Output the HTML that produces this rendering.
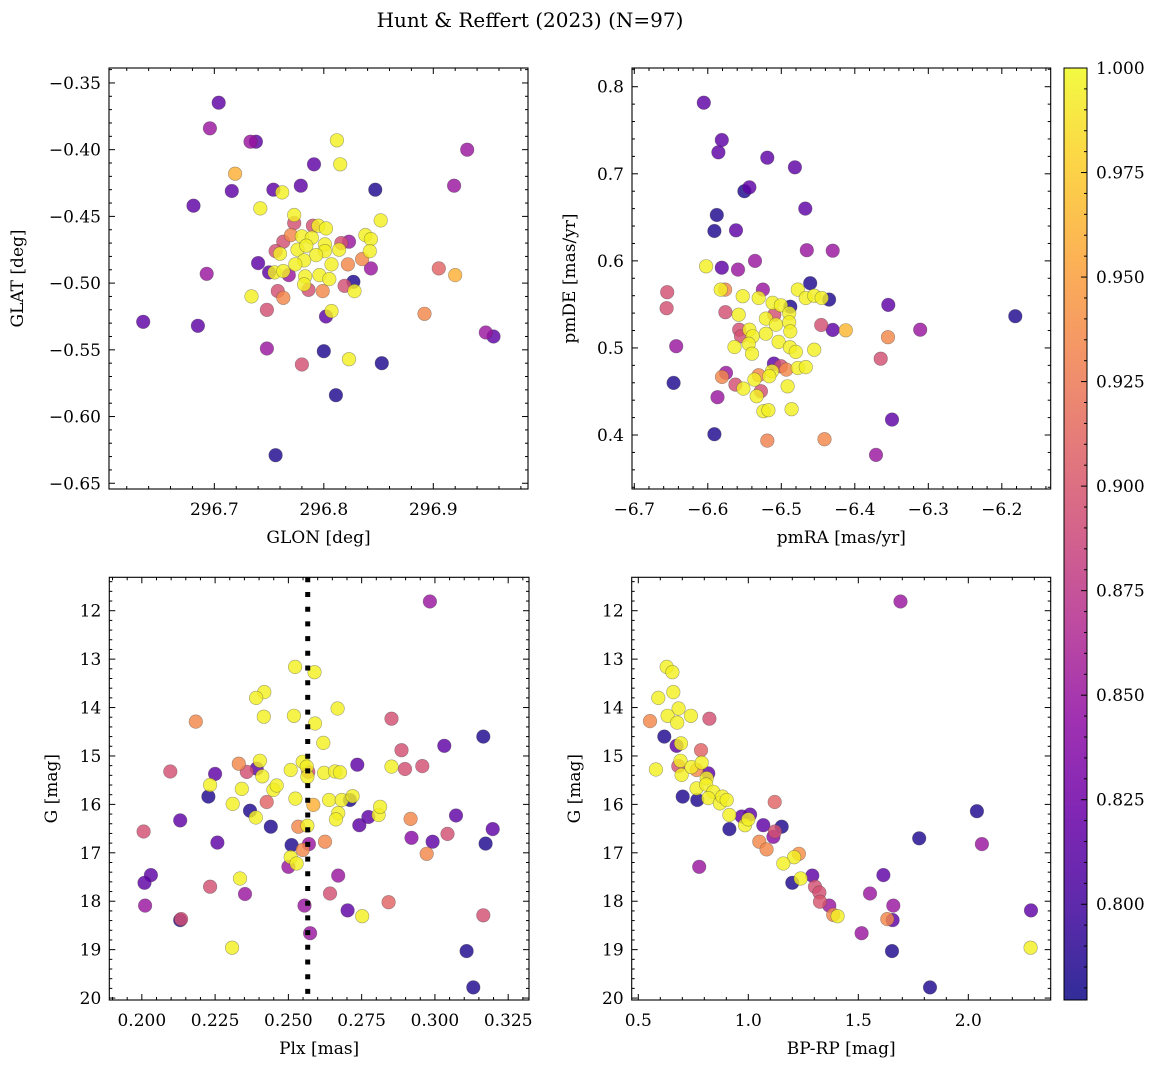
<!DOCTYPE html>
<html><head><meta charset="utf-8">
<style>
html,body{margin:0;padding:0;background:#fff;}
svg{display:block;}
text{font-family:"DejaVu Serif","Liberation Serif",serif;fill:#000;}
</style></head>
<body>
<svg id="fig" width="1161" height="1067" viewBox="0 0 1161 1067" xmlns="http://www.w3.org/2000/svg">
<defs>
<linearGradient id="plasmaGrad" x1="0" y1="1" x2="0" y2="0"></linearGradient>
</defs>
<text x="530" y="27" font-size="20" text-anchor="middle">Hunt &amp; Reffert (2023) (N=97)</text>
</svg>
<script>
// ---------- data ----------
const p1Glon=[296.704,296.696,296.733,296.738,296.812,296.815,296.791,296.719,296.716,296.754,296.762,296.779,296.847,296.931,296.919,296.681,296.742,296.852,296.773,296.773,296.770,296.790,296.795,296.802,296.780,296.789,296.763,296.756,296.760,296.776,296.784,296.801,296.801,296.816,296.823,296.814,296.838,296.843,296.842,296.835,296.793,296.782,296.774,296.807,296.822,296.843,296.740,296.750,296.755,296.763,296.768,296.783,296.796,296.805,296.782,296.786,296.799,296.827,296.819,296.828,296.693,296.734,296.758,296.763,296.748,296.905,296.920,296.892,296.807,296.802,296.635,296.685,296.948,296.955,296.748,296.800,296.823,296.853,296.780,296.811,296.756];
const p1Glat=[-0.3648,-0.384,-0.394,-0.394,-0.393,-0.411,-0.411,-0.418,-0.431,-0.430,-0.432,-0.427,-0.430,-0.400,-0.427,-0.442,-0.444,-0.453,-0.449,-0.455,-0.464,-0.457,-0.457,-0.459,-0.465,-0.466,-0.469,-0.476,-0.478,-0.475,-0.472,-0.471,-0.476,-0.470,-0.469,-0.475,-0.464,-0.467,-0.476,-0.482,-0.479,-0.483,-0.486,-0.486,-0.486,-0.489,-0.485,-0.492,-0.492,-0.491,-0.494,-0.495,-0.494,-0.497,-0.501,-0.505,-0.506,-0.499,-0.502,-0.506,-0.493,-0.510,-0.506,-0.511,-0.520,-0.489,-0.494,-0.523,-0.521,-0.525,-0.529,-0.532,-0.537,-0.540,-0.549,-0.551,-0.557,-0.560,-0.561,-0.584,-0.629];
const p1Prob=[0.815,0.85,0.85,0.815,0.995,0.995,0.815,0.96,0.815,0.815,0.995,0.815,0.785,0.85,0.85,0.815,0.995,0.995,0.995,0.895,0.935,0.895,0.995,0.995,0.995,0.995,0.895,0.895,0.995,0.995,0.995,0.995,0.995,0.895,0.85,0.995,0.995,0.995,0.995,0.935,0.995,0.995,0.995,0.995,0.935,0.85,0.815,0.815,0.995,0.995,0.85,0.995,0.995,0.995,0.995,0.895,0.935,0.785,0.895,0.995,0.85,0.995,0.895,0.935,0.895,0.91,0.96,0.935,0.995,0.815,0.815,0.815,0.85,0.815,0.85,0.785,0.995,0.785,0.895,0.785,0.785];

const p2Pmra=[-6.6054,-6.581,-6.5855,-6.519,-6.4815,-6.5502,-6.5434,-6.4674,-6.5878,-6.591,-6.5616,-6.4653,-6.430,-6.5358,-6.6023,-6.581,-6.5589,-6.6552,-6.656,-6.5824,-6.5765,-6.5525,-6.5308,-6.525,-6.5118,-6.5005,-6.4878,-6.4775,-6.4607,-6.4666,-6.4552,-6.445,-6.435,-6.576,-6.558,-6.5095,-6.4892,-6.5209,-6.5073,-6.4892,-6.3544,-6.1817,-6.4457,-6.43,-6.4123,-6.311,-6.5572,-6.5434,-6.5548,-6.5389,-6.5209,-6.4878,-6.3549,-6.5637,-6.5444,-6.5399,-6.5037,-6.4883,-6.4802,-6.4552,-6.643,-6.3648,-6.5101,-6.5005,-6.4932,-6.4775,-6.4666,-6.5127,-6.5163,-6.5752,-6.5806,-6.5308,-6.5366,-6.4914,-6.5624,-6.5516,-6.5277,-6.5335,-6.6465,-6.5868,-6.5244,-6.5176,-6.486,-6.3494,-6.591,-6.519,-6.4412,-6.3711];
const p2Pmde=[0.7816,0.7388,0.7247,0.7185,0.7075,0.680,0.6845,0.660,0.6527,0.6343,0.6351,0.6122,0.6117,0.600,0.5938,0.5922,0.590,0.564,0.5456,0.567,0.567,0.5594,0.5574,0.567,0.5517,0.549,0.5474,0.567,0.5743,0.5574,0.560,0.5574,0.5555,0.541,0.5382,0.5382,0.5398,0.5337,0.5268,0.5295,0.5494,0.5364,0.5264,0.5207,0.5203,0.521,0.521,0.521,0.5134,0.5134,0.5164,0.519,0.5123,0.5011,0.5046,0.4934,0.5069,0.5008,0.4954,0.498,0.502,0.4877,0.482,0.479,0.4751,0.477,0.478,0.4733,0.4675,0.4713,0.4667,0.4687,0.4636,0.456,0.4579,0.4533,0.4503,0.4446,0.4598,0.4434,0.4273,0.4285,0.4296,0.4177,0.4009,0.3936,0.3952,0.3772];
const p2Prob=[0.815,0.815,0.815,0.815,0.815,0.785,0.815,0.815,0.785,0.785,0.815,0.85,0.85,0.85,0.995,0.815,0.85,0.895,0.895,0.995,0.935,0.995,0.995,0.85,0.995,0.995,0.785,0.995,0.785,0.995,0.995,0.995,0.785,0.895,0.995,0.895,0.995,0.995,0.995,0.995,0.815,0.785,0.895,0.815,0.965,0.85,0.895,0.995,0.895,0.995,0.995,0.995,0.935,0.995,0.995,0.995,0.995,0.995,0.995,0.995,0.85,0.895,0.815,0.895,0.935,0.995,0.995,0.995,0.995,0.85,0.935,0.935,0.995,0.995,0.895,0.995,0.895,0.995,0.785,0.85,0.995,0.995,0.995,0.815,0.785,0.93,0.935,0.85];

const p3Plx=[0.2983,0.2523,0.2589,0.2418,0.2390,0.2668,0.2184,0.2416,0.2519,0.2591,0.2852,0.2619,0.3165,0.3032,0.2886,0.2097,0.2250,0.2331,0.2358,0.2392,0.2403,0.2411,0.2508,0.2549,0.2563,0.2568,0.2565,0.2622,0.2659,0.2676,0.2735,0.2852,0.2898,0.2957,0.2233,0.2341,0.2449,0.2460,0.2426,0.2227,0.2310,0.2524,0.2585,0.2639,0.2682,0.2710,0.2719,0.2369,0.2389,0.2131,0.2440,0.2534,0.2565,0.2670,0.2662,0.2742,0.2773,0.2808,0.2813,0.2917,0.3072,0.3197,0.2006,0.2258,0.2511,0.2570,0.2549,0.2625,0.2920,0.2992,0.3043,0.3173,0.2972,0.2508,0.2528,0.2500,0.2031,0.2009,0.2335,0.2670,0.2233,0.2352,0.2642,0.2011,0.2555,0.2842,0.2702,0.2752,0.3165,0.2131,0.2134,0.2574,0.2308,0.3108,0.3131];
const p3G=[11.81,13.16,13.27,13.68,13.80,14.02,14.29,14.19,14.17,14.33,14.23,14.73,14.60,14.79,14.88,15.32,15.37,15.16,15.33,15.26,15.10,15.42,15.29,15.12,15.22,15.33,15.43,15.35,15.32,15.34,15.18,15.22,15.27,15.21,15.60,15.68,15.70,15.61,15.95,15.84,15.99,15.88,16.01,15.91,15.91,15.91,15.83,16.13,16.27,16.33,16.46,16.46,16.44,16.18,16.31,16.43,16.26,16.22,16.05,16.30,16.23,16.51,16.56,16.79,16.84,16.82,16.94,16.77,16.69,16.77,16.61,16.81,17.02,17.09,17.22,17.29,17.46,17.62,17.53,17.47,17.70,17.85,17.84,18.09,18.09,18.02,18.19,18.31,18.29,18.39,18.37,18.66,18.96,19.03,19.78];
const p3Prob=[0.85,0.995,0.995,0.995,0.995,0.995,0.935,0.995,0.995,0.995,0.895,0.995,0.785,0.815,0.895,0.895,0.815,0.935,0.895,0.815,0.995,0.995,0.995,0.995,0.995,0.895,0.995,0.995,0.995,0.995,0.815,0.995,0.895,0.895,0.995,0.995,0.995,0.995,0.91,0.785,0.995,0.995,0.96,0.995,0.995,0.785,0.995,0.785,0.995,0.815,0.785,0.935,0.995,0.995,0.995,0.815,0.815,0.995,0.995,0.935,0.815,0.815,0.895,0.815,0.785,0.85,0.935,0.935,0.84,0.815,0.895,0.785,0.935,0.995,0.995,0.85,0.815,0.815,0.995,0.85,0.895,0.85,0.895,0.85,0.85,0.91,0.815,0.995,0.895,0.785,0.895,0.85,0.995,0.785,0.785];

const p4Bprp=[1.692,0.629,0.655,0.591,0.659,0.683,0.633,0.739,0.677,0.553,0.823,0.618,0.674,0.694,0.785,0.580,0.682,0.692,0.697,0.742,0.765,0.788,0.818,0.811,0.765,0.808,0.841,0.702,0.768,0.818,0.871,0.882,0.902,0.914,1.120,0.970,1.008,0.985,1.000,0.914,1.068,1.114,1.121,1.152,1.050,1.083,1.230,1.208,1.159,0.777,1.291,1.200,1.238,1.303,1.323,1.326,1.368,1.406,1.386,1.614,1.553,1.659,1.656,1.632,1.515,1.653,1.826,1.777,2.039,2.062,2.285,2.283];
const p4G=[11.81,13.16,13.27,13.80,13.68,14.02,14.17,14.17,14.31,14.28,14.23,14.60,14.79,14.74,14.88,15.28,15.21,15.10,15.39,15.23,15.29,15.14,15.36,15.46,15.67,15.59,15.74,15.84,15.91,15.87,15.98,15.84,15.91,16.22,15.95,16.25,16.21,16.43,16.31,16.51,16.43,16.67,16.56,16.46,16.77,16.93,17.02,17.09,17.22,17.29,17.47,17.62,17.53,17.70,17.82,18.01,18.09,18.31,18.28,17.46,17.84,18.09,18.39,18.37,18.66,19.03,19.78,16.70,16.14,16.82,18.19,18.96];
const p4Prob=[0.85,0.995,0.995,0.995,0.995,0.995,0.995,0.995,0.995,0.935,0.895,0.785,0.815,0.995,0.91,0.995,0.895,0.995,0.995,0.995,0.935,0.995,0.815,0.995,0.995,0.995,0.995,0.785,0.785,0.995,0.995,0.995,0.995,0.995,0.91,0.815,0.815,0.995,0.995,0.785,0.815,0.84,0.895,0.785,0.935,0.935,0.94,0.995,0.995,0.85,0.815,0.785,0.995,0.895,0.895,0.9,0.85,0.995,0.935,0.815,0.85,0.85,0.815,0.935,0.85,0.785,0.785,0.785,0.785,0.85,0.815,0.995];

const p1XTicks=[296.7,296.8,296.9];
const p1YTicks=[-0.35,-0.40,-0.45,-0.50,-0.55,-0.60,-0.65];
const p2XTicks=[-6.7,-6.6,-6.5,-6.4,-6.3,-6.2];
const p2YTicks=[0.4,0.5,0.6,0.7,0.8];
const p3XTicks=[0.200,0.225,0.250,0.275,0.300,0.325];
const gTicks=[12,13,14,15,16,17,18,19,20];
const p4XTicks=[0.5,1.0,1.5,2.0];
const cbTicks=[0.800,0.825,0.850,0.875,0.900,0.925,0.950,0.975,1.000];
const plxRef=[0.2566];
const probRange=[0.7771,1.0];

// ---------- helpers ----------
const NS='http://www.w3.org/2000/svg';
const svg=document.getElementById('fig');
function mk(tag,attrs,parent){const e=document.createElementNS(NS,tag);for(const k in attrs)e.setAttribute(k,attrs[k]);(parent||svg).appendChild(e);return e;}
const stops=[[0,'#0d0887'],[0.1,'#41049d'],[0.2,'#6a00a8'],[0.3,'#8f0da4'],[0.4,'#b12a90'],[0.5,'#cc4778'],[0.6,'#e16462'],[0.7,'#f2844b'],[0.8,'#fca636'],[0.9,'#fcce25'],[1,'#f0f921']];
function hex(h){return [1,3,5].map(i=>parseInt(h.substr(i,2),16));}
function plasma(t){t=Math.max(0,Math.min(1,t));for(let i=1;i<stops.length;i++){if(t<=stops[i][0]){const a=stops[i-1],b=stops[i];const f=(t-a[0])/(b[0]-a[0]);const ca=hex(a[1]),cb=hex(b[1]);return 'rgb('+ca.map((v,j)=>Math.round(v+(cb[j]-v)*f)).join(',')+')';}}return stops[10][1];}
function probColor(p){return plasma((p-probRange[0])/(probRange[1]-probRange[0]));}
function fmt(v,d){return (v<0?'\u2212':'')+Math.abs(v).toFixed(d);}

function panel(c){
  const g=mk('g',{});
  
  
  const sx=v=>c.x0+(v-c.xd[0])/(c.xd[1]-c.xd[0])*(c.x1-c.x0);
  const sy=v=>c.y1-(v-c.yd[0])/(c.yd[1]-c.yd[0])*(c.y1-c.y0);
  const idx=c.xs.map((_,i)=>i).sort((a,b)=>c.ps[a]-c.ps[b]);
  const pg=mk('g',{},g);
  
  
  idx.forEach(i=>{
    const el=mk('circle',{cx:sx(c.xs[i]).toFixed(1),cy:sy(c.ys[i]).toFixed(1),r:6.8,fill:probColor(c.ps[i]),'fill-opacity':0.82,stroke:'rgba(60,60,60,0.45)','stroke-width':0.6},pg);
    
    
  });
  if(c.vline){
    c.vline.forEach(v=>{
      const ln=mk('line',{x1:sx(v),x2:sx(v),y1:c.y0,y2:c.y1,stroke:'#000','stroke-width':5,'stroke-dasharray':'5,9.7'},g);
      
      
    });
  }
  const fr=mk('rect',{x:c.x0,y:c.y0,width:c.x1-c.x0,height:c.y1-c.y0,fill:'none',stroke:'#000','stroke-width':1.1},g);
  
  
  const tk=mk('g',{stroke:'#000','stroke-width':1},g);
  
  
  const xlo=Math.min(c.xd[0],c.xd[1]),xhi=Math.max(c.xd[0],c.xd[1]);
  const ylo=Math.min(c.yd[0],c.yd[1]),yhi=Math.max(c.yd[0],c.yd[1]);
  for(let v=Math.ceil(xlo/c.xm-1e-6)*c.xm;v<=xhi+1e-9;v+=c.xm){
    const isMaj=c.xt.some(t=>Math.abs(t-v)<c.xm/10);const L=isMaj?6:3;const X=sx(v);
    mk('line',{x1:X,x2:X,y1:c.y1,y2:c.y1-L},tk);mk('line',{x1:X,x2:X,y1:c.y0,y2:c.y0+L},tk);
  }
  for(let v=Math.ceil(ylo/c.ym-1e-6)*c.ym;v<=yhi+1e-9;v+=c.ym){
    const isMaj=c.yt.some(t=>Math.abs(t-v)<c.ym/10);const L=isMaj?6:3;const Y=sy(v);
    mk('line',{x1:c.x0,x2:c.x0+L,y1:Y,y2:Y},tk);mk('line',{x1:c.x1,x2:c.x1-L,y1:Y,y2:Y},tk);
  }
  c.xt.forEach(v=>{const X=sx(v);if(X<c.x0-1||X>c.x1+1)return;
    const t=mk('text',{x:X,y:c.y1+26,'font-size':17,'text-anchor':'middle'},g);t.textContent=fmt(v,c.xdp);
    });
  c.yt.forEach(v=>{const Y=sy(v);if(Y<c.y0-1||Y>c.y1+1)return;
    const t=mk('text',{x:c.x0-8,y:Y+6,'font-size':17,'text-anchor':'end'},g);t.textContent=fmt(v,c.ydp);
    });
  const xl=mk('text',{x:(c.x0+c.x1)/2,y:c.y1+54,'font-size':17,'text-anchor':'middle'},g);xl.textContent=c.xlabel;
  
  const yy=(c.y0+c.y1)/2;
  const yl=mk('text',{x:c.ylx,y:yy,'font-size':17,'text-anchor':'middle',transform:'rotate(-90 '+c.ylx+' '+yy+')'},g);yl.textContent=c.ylabel;
  
}

panel({name:'glon-glat-panel',x0:109,x1:528,y0:68,y1:489,xd:[296.6038,296.9865],yd:[-0.6543,-0.3388],xs:p1Glon,ys:p1Glat,ps:p1Prob,xt:p1XTicks,yt:p1YTicks,xm:0.02,ym:0.01,xdp:1,ydp:2,xlabel:'GLON [deg]',ylabel:'GLAT [deg]',ylx:23});
panel({name:'proper-motion-panel',x0:632,x1:1050.7,y0:68,y1:489,xd:[-6.7031,-6.1335],yd:[0.338,0.8215],xs:p2Pmra,ys:p2Pmde,ps:p2Prob,xt:p2XTicks,yt:p2YTicks,xm:0.02,ym:0.02,xdp:1,ydp:1,xlabel:'pmRA [mas/yr]',ylabel:'pmDE [mas/yr]',ylx:575});
panel({name:'parallax-magnitude-panel',x0:109.3,x1:529,y0:577.3,y1:1000,xd:[0.1889,0.3321],yd:[20.04,11.31],xs:p3Plx,ys:p3G,ps:p3Prob,xt:p3XTicks,yt:gTicks,xm:0.005,ym:0.2,xdp:3,ydp:0,xlabel:'Plx [mas]',ylabel:'G [mag]',ylx:57,vline:plxRef});
panel({name:'color-magnitude-panel',x0:631.7,x1:1050.7,y0:577.3,y1:1000,xd:[0.470,2.3745],yd:[20.04,11.31],xs:p4Bprp,ys:p4G,ps:p4Prob,xt:p4XTicks,yt:gTicks,xm:0.1,ym:0.2,xdp:1,ydp:0,xlabel:'BP-RP [mag]',ylabel:'G [mag]',ylx:580});

// ---------- colorbar ----------
const grad=document.getElementById('plasmaGrad');
stops.forEach(s=>mk('stop',{offset:s[0],'stop-color':s[1],'stop-opacity':0.85},grad));
const cb=mk('g',{});


const cbx0=1064,cbx1=1087,cby0=68,cby1=1000;
const cby=v=>cby1-(v-probRange[0])/(probRange[1]-probRange[0])*(cby1-cby0);
mk('rect',{x:cbx0,y:cby0,width:cbx1-cbx0,height:cby1-cby0,fill:'url(#plasmaGrad)',stroke:'#000','stroke-width':1},cb);
for(let v=0.780;v<=1.0001;v+=0.005){const Y=cby(v);const maj=cbTicks.some(t=>Math.abs(t-v)<1e-4);
  mk('line',{x1:cbx1,x2:cbx1-(maj?6:3),y1:Y,y2:Y,stroke:'#000','stroke-width':1},cb);}
cbTicks.forEach(v=>{const t=mk('text',{x:cbx1+9,y:cby(v)+6,'font-size':17},cb);t.textContent=v.toFixed(3);
  });
</script>
</body></html>
